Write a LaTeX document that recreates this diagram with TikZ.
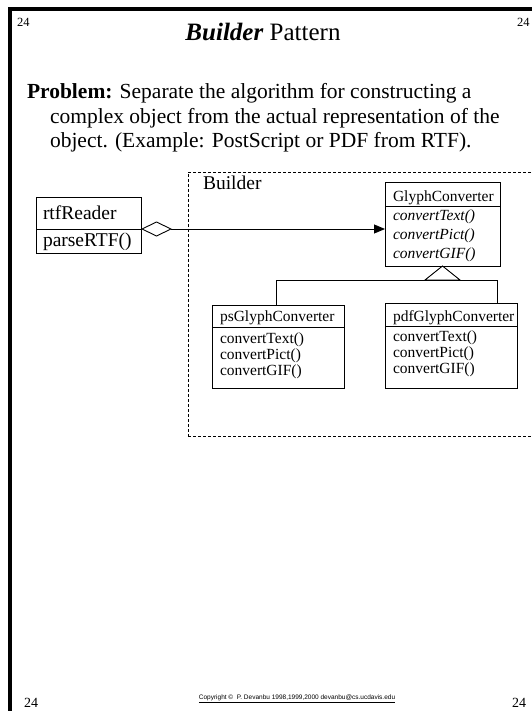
\documentclass[tikz,border=0pt]{standalone}
\usepackage{fontspec}
\setmainfont{Liberation Serif}
\newfontfamily\copyfont{Liberation Sans}
\usetikzlibrary{arrows.meta}

\tikzset{
  every node/.style={inner sep=0pt, outer sep=0pt},
  lbl/.style={anchor=base west},
  classbox/.style={draw, line width=0.9pt, anchor=north west},
  bigtxt/.style={font=\fontsize{19.5}{22}\selectfont},
  smalltxt/.style={font=\fontsize{15.5}{18}\selectfont},
  itsmall/.style={font=\fontsize{15.5}{18}\selectfont\itshape},
  probtxt/.style={anchor=base west, font=\fontsize{21.5}{24}\selectfont},
  pagenum/.style={font=\fontsize{14}{16}\selectfont, anchor=base west},
  toppagenum/.style={font=\fontsize{12.5}{14}\selectfont, anchor=base west},
  link/.style={line width=0.9pt},
}

\begin{document}
\begin{tikzpicture}[x=1pt, y=-1pt]
\useasboundingbox (0,0) rectangle (531,711);

% page frame
\draw[line width=3.5pt] (10,711) -- (10,9) -- (535,9);

% page numbers
\node[toppagenum] (numTL) at (17,27) {24};
\node[toppagenum] (numTR) at (517,27) {24};
\node[pagenum] (numBL) at (24,707) {24};
\node[pagenum] (numBR) at (512,707) {24};

% title and problem statement
\node[anchor=base, font=\fontsize{25}{28}\selectfont] (title) at (263,41)
  {\textbf{\textit{Builder}} Pattern};
\node[probtxt] (prob1) at (27,99)
  {\textbf{Problem:} Separate the algorithm for constructing a};
\node[probtxt] (prob2) at (50,124)
  {complex object from the actual representation of the};
\node[probtxt] (prob3) at (50,148)
  {object. (Example: PostScript or PDF from RTF).};

% Builder package region
\node[draw, dash pattern=on 3pt off 2pt, line width=0.8pt, anchor=north west,
      minimum width=352pt, minimum height=264pt] (builder) at (188,172) {};
\node[lbl, bigtxt] (builderName) at (203,190) {Builder};

% rtfReader class
\node[classbox, minimum width=105pt, minimum height=32pt] (rtfH) at (36,197) {};
\node[classbox, minimum width=105pt, minimum height=24pt] (rtfB) at (36,229) {};
\node[lbl, bigtxt] (rtfName) at (43,219) {rtfReader};
\node[lbl, bigtxt] (rtfM1) at (43,246) {parseRTF()};

% GlyphConverter (abstract) class
\node[classbox, minimum width=115pt, minimum height=24pt] (gcH) at (385,182) {};
\node[classbox, minimum width=115pt, minimum height=60pt] (gcB) at (385,206) {};
\node[lbl, smalltxt] (gcName) at (393,202) {GlyphConverter};
\node[lbl, itsmall] (gcM1) at (393,220) {convertText()};
\node[lbl, itsmall] (gcM2) at (393,240) {convertPict()};
\node[lbl, itsmall] (gcM3) at (393,258) {convertGIF()};

% psGlyphConverter class
\node[classbox, minimum width=132pt, minimum height=22pt] (psH) at (212,305) {};
\node[classbox, minimum width=132pt, minimum height=61pt] (psB) at (212,327) {};
\node[lbl, smalltxt] (psName) at (220,321) {psGlyphConverter};
\node[lbl, smalltxt] (psM1) at (220,343) {convertText()};
\node[lbl, smalltxt] (psM2) at (220,359) {convertPict()};
\node[lbl, smalltxt] (psM3) at (220,375) {convertGIF()};

% pdfGlyphConverter class
\node[classbox, minimum width=132pt, minimum height=23pt] (pdfH) at (385,303) {};
\node[classbox, minimum width=132pt, minimum height=62pt] (pdfB) at (385,326) {};
\node[lbl, smalltxt] (pdfName) at (393,321) {pdfGlyphConverter};
\node[lbl, smalltxt] (pdfM1) at (393,341) {convertText()};
\node[lbl, smalltxt] (pdfM2) at (393,357) {convertPict()};
\node[lbl, smalltxt] (pdfM3) at (393,373) {convertGIF()};

% aggregation: rtfReader holds a GlyphConverter
\coordinate (aggFrom) at (rtfH.south east);
\draw[link, {Diamond[open, length=31pt, width=15pt]}-{Triangle[length=11pt, width=9pt]}]
  (aggFrom) -- (aggFrom -| gcB.west);

% generalisation: both converters derive from GlyphConverter
\coordinate (inh) at ([yshift=-14pt]gcB.south);
\coordinate (psJoin) at (276,305);
\coordinate (pdfJoin) at (497,303);
\draw[link] (gcB.south) -- ([xshift=-17.5pt]inh) -- ([xshift=17.5pt]inh) -- cycle;
\draw[link] (psJoin) -- (psJoin |- inh) -- (pdfJoin |- inh) -- (pdfJoin);

% footer
\node[anchor=base, font=\copyfont\fontsize{6.5}{8}\selectfont] (copyright) at (297,699)
  {\underline{Copyright \textcopyright{}\ \ P. Devanbu 1998,1999,2000 devanbu@cs.ucdavis.edu}};
\end{tikzpicture}
\end{document}
